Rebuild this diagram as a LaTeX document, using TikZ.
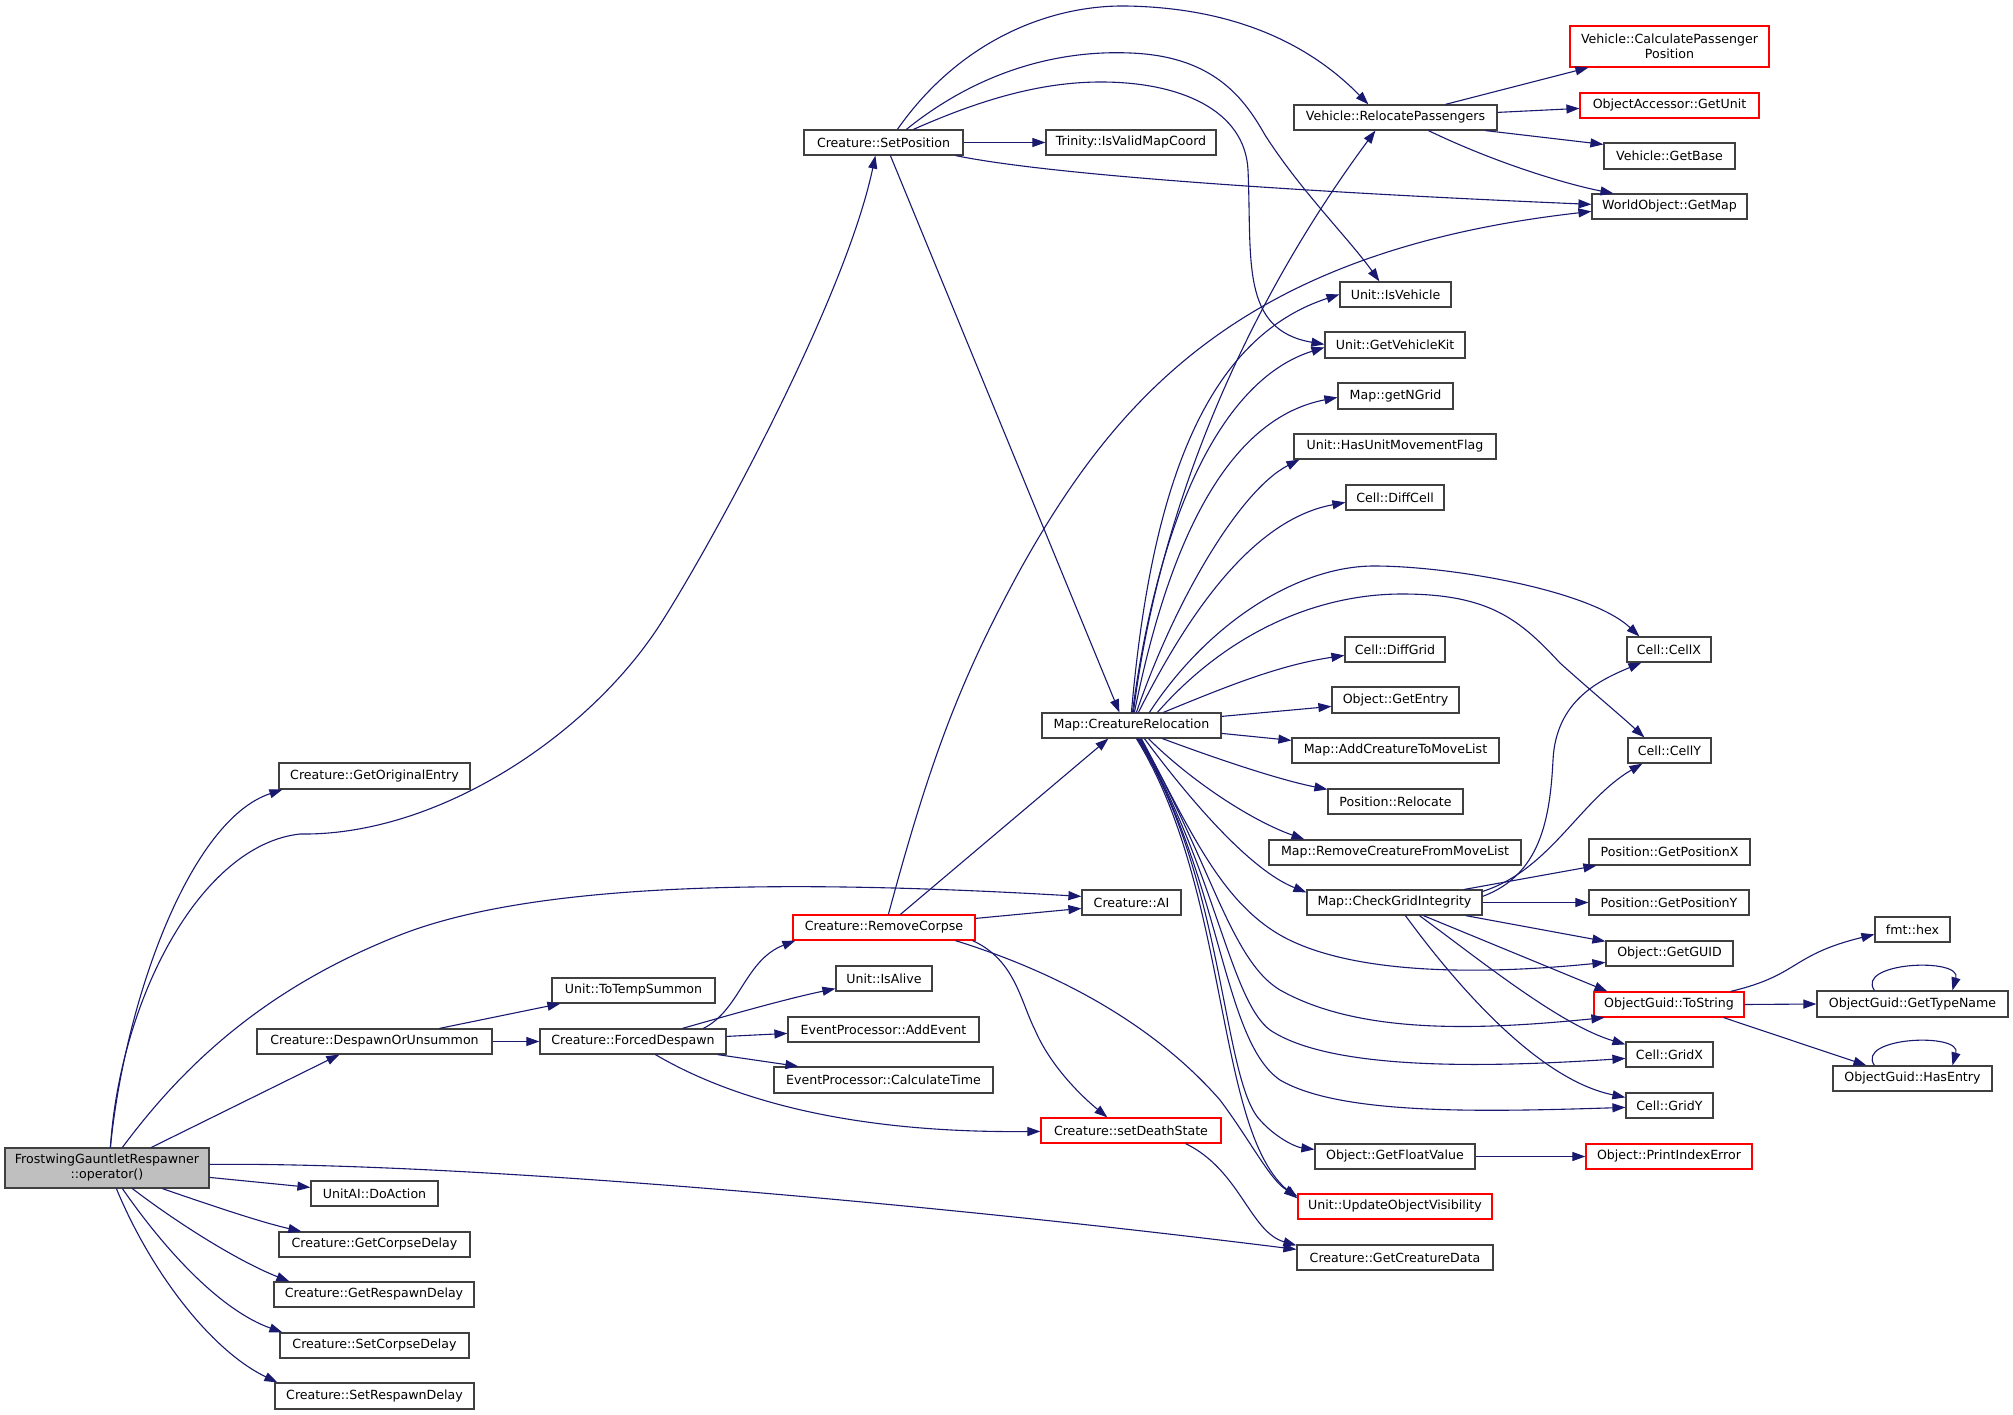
\documentclass[tikz,border=0pt]{standalone}
\usepackage{fontspec}
\setmainfont{DejaVu Sans}
\usetikzlibrary{arrows.meta,calc}
\definecolor{edgec}{HTML}{191970}
\definecolor{boxc}{HTML}{404040}
\definecolor{grayfill}{HTML}{BFBFBF}
\tikzset{
  box/.style={draw=boxc,line width=1.2pt,fill=white,inner sep=0pt,font=\fontsize{12.6}{15}\selectfont,align=center},
  redbox/.style={draw=red},
  e/.style={draw=edgec,line width=1.1pt,-{Triangle[length=13pt,width=9pt]}}
}
\newcommand\mynode[7][]{\node[box,#1,minimum width={(#5-#3)*1pt},minimum height={(#6-#4)*1pt}] (#2) at ({(#3+#5)/2},{(#4+#6)/2}) {#7};}
\begin{document}
\begin{tikzpicture}[x=1pt,y=-1pt]
\useasboundingbox (0,0) rectangle (2013,1415);
\fill[white] (0,0) rectangle (2013,1415);
% nodes
\mynode[fill=grayfill]{F}{5}{1148}{209}{1188}{FrostwingGauntletRespawner\\::operator()}
\mynode{GOE}{279}{763}{470}{789}{Creature::GetOriginalEntry}
\mynode{SP}{804}{130}{963}{155}{Creature::SetPosition}
\mynode{IVM}{1046}{130}{1216}{155}{Trinity::IsValidMapCoord}
\mynode{RP}{1294}{105}{1497}{130}{Vehicle::RelocatePassengers}
\mynode[redbox]{CPP}{1570}{26}{1769}{67}{Vehicle::CalculatePassenger\\Position}
\mynode[redbox]{OAG}{1580}{93}{1759}{118}{ObjectAccessor::GetUnit}
\mynode{VGB}{1604}{143}{1735}{169}{Vehicle::GetBase}
\mynode{WGM}{1592}{194}{1747}{219}{WorldObject::GetMap}
\mynode{IV}{1340}{282}{1451}{307}{Unit::IsVehicle}
\mynode{GVK}{1325}{332}{1465}{358}{Unit::GetVehicleKit}
\mynode{NG}{1338}{383}{1453}{409}{Map::getNGrid}
\mynode{HUM}{1294}{434}{1496}{459}{Unit::HasUnitMovementFlag}
\mynode{DC}{1346}{485}{1444}{510}{Cell::DiffCell}
\mynode{CX}{1627}{637}{1711}{662}{Cell::CellX}
\mynode{DG}{1345}{637}{1445}{662}{Cell::DiffGrid}
\mynode{GE}{1332}{687}{1459}{713}{Object::GetEntry}
\mynode{CR}{1042}{713}{1221}{738}{Map::CreatureRelocation}
\mynode{ACM}{1292}{738}{1499}{763}{Map::AddCreatureToMoveList}
\mynode{CY}{1628}{738}{1711}{763}{Cell::CellY}
\mynode{PR}{1328}{789}{1463}{814}{Position::Relocate}
\mynode{RCM}{1269}{840}{1521}{865}{Map::RemoveCreatureFromMoveList}
\mynode{PGX}{1589}{839}{1750}{865}{Position::GetPositionX}
\mynode{CGI}{1307}{890}{1482}{915}{Map::CheckGridIntegrity}
\mynode{PGY}{1589}{890}{1749}{915}{Position::GetPositionY}
\mynode{AI}{1082}{890}{1181}{915}{Creature::AI}
\mynode[redbox]{RC}{793}{915}{975}{940}{Creature::RemoveCorpse}
\mynode{HEX}{1875}{917}{1950}{942}{fmt::hex}
\mynode{GUID}{1606}{941}{1733}{966}{Object::GetGUID}
\mynode{IA}{836}{966}{932}{991}{Unit::IsAlive}
\mynode{TTS}{552}{978}{715}{1003}{Unit::ToTempSummon}
\mynode[redbox]{TS}{1594}{992}{1744}{1017}{ObjectGuid::ToString}
\mynode{GTN}{1817}{991}{2008}{1017}{ObjectGuid::GetTypeName}
\mynode{AE}{788}{1017}{979}{1042}{EventProcessor::AddEvent}
\mynode{DOU}{257}{1029}{492}{1054}{Creature::DespawnOrUnsummon}
\mynode{FD}{540}{1029}{726}{1054}{Creature::ForcedDespawn}
\mynode{GX}{1626}{1042}{1713}{1067}{Cell::GridX}
\mynode{HE}{1833}{1066}{1992}{1091}{ObjectGuid::HasEntry}
\mynode{CT}{774}{1067}{993}{1093}{EventProcessor::CalculateTime}
\mynode{GY}{1626}{1093}{1713}{1118}{Cell::GridY}
\mynode[redbox]{SDS}{1041}{1118}{1221}{1143}{Creature::setDeathState}
\mynode{GFV}{1315}{1144}{1475}{1169}{Object::GetFloatValue}
\mynode[redbox]{PIE}{1586}{1144}{1752}{1169}{Object::PrintIndexError}
\mynode{DOA}{311}{1181}{438}{1206}{UnitAI::DoAction}
\mynode[redbox]{UOV}{1298}{1194}{1492}{1219}{Unit::UpdateObjectVisibility}
\mynode{GCD}{279}{1232}{470}{1257}{Creature::GetCorpseDelay}
\mynode{GCRD}{1297}{1245}{1493}{1270}{Creature::GetCreatureData}
\mynode{GRD}{274}{1282}{474}{1307}{Creature::GetRespawnDelay}
\mynode{SCD}{280}{1333}{469}{1358}{Creature::SetCorpseDelay}
\mynode{SRD}{275}{1383}{474}{1409}{Creature::SetRespawnDelay}
% edges from F
\draw[e] ($(F.north west)+(106,0)$) .. controls (125,1000) and (190,820) .. ($(GOE.south west)+(4,0)$);
\draw[e] ($(F.north west)+(106,0)$) .. controls (120,1000) and (200,845) .. (300,834) .. controls (440,836) and (591,733) .. (661,623) .. controls (711,545) and (845,300) .. ($(SP.south west)+(72,0)$);
\draw[e] ($(F.north west)+(118,0)$) .. controls (180,1070) and (260,990) .. (400,935) .. controls (540,880) and (800,880) .. ($(AI.north west)+(0,7)$);
\draw[e] ($(F.north west)+(147,0)$) -- ($(DOU.south west)+(83,0)$);
\draw[e] ($(F.north east)+(0,17)$) .. controls (450,1162) and (900,1200) .. ($(GCRD.north west)+(0,5)$);
\draw[e] ($(F.north east)+(0,30)$) -- ($(DOA.north west)+(0,7)$);
\draw[e] ($(F.south west)+(158,0)$) .. controls (210,1205) and (260,1222) .. ($(GCD.north west)+(23,0)$);
\draw[e] ($(F.south west)+(128,0)$) .. controls (180,1225) and (240,1262) .. ($(GRD.north west)+(16,0)$);
\draw[e] ($(F.south west)+(118,0)$) .. controls (165,1250) and (220,1310) .. ($(SCD.north west)+(3,0)$);
\draw[e] ($(F.south west)+(112,0)$) .. controls (150,1270) and (210,1350) .. ($(SRD.north west)+(3,0)$);
% SetPosition
\draw[e] (SP.east) -- (IVM.west);
\draw[e] ($(SP.north west)+(94,0)$) .. controls (960,40) and (1050,5) .. (1126,6) .. controls (1250,8) and (1320,55) .. ($(RP.north west)+(75,0)$);
\draw[e] ($(SP.north west)+(103,0)$) .. controls (980,70) and (1060,50) .. (1130,53) .. controls (1215,56) and (1245,100) .. (1265,135) .. controls (1300,190) and (1350,240) .. ($(IV.north west)+(40,0)$);
\draw[e] ($(SP.north west)+(110,0)$) .. controls (980,100) and (1040,82) .. (1101,82) .. controls (1180,82) and (1245,110) .. (1248,170) .. controls (1252,260) and (1240,330) .. ($(GVK.north west)+(0,13)$);
\draw[e] ($(SP.south east)+(-8,0)$) .. controls (1050,175) and (1300,192) .. ($(WGM.north west)+(0,11)$);
\draw[e] ($(SP.south west)+(87,0)$) -- ($(CR.north west)+(78,0)$);
% RelocatePassengers
\draw[e] ($(RP.north west)+(152,0)$) -- ($(CPP.south west)+(19,0)$);
\draw[e] ($(RP.north east)+(0,8)$) -- ($(OAG.north west)+(0,16)$);
\draw[e] ($(RP.south west)+(192,0)$) -- ($(VGB.north west)+(0,2)$);
\draw[e] ($(RP.south west)+(135,0)$) .. controls (1500,165) and (1570,185) .. ($(WGM.north west)+(22,0)$);
% CreatureRelocation top
\draw[e] ($(CR.north west)+(92,0)$) .. controls (1160,500) and (1250,300) .. ($(RP.south west)+(82,0)$);
\draw[e] ($(CR.north west)+(90,0)$) .. controls (1150,500) and (1200,340) .. ($(IV.north west)+(0,13)$);
\draw[e] ($(CR.north west)+(91,0)$) .. controls (1158,520) and (1220,380) .. ($(GVK.north west)+(0,16)$);
\draw[e] ($(CR.north west)+(93,0)$) .. controls (1165,560) and (1220,420) .. ($(NG.north west)+(0,15)$);
\draw[e] ($(CR.north west)+(95,0)$) .. controls (1175,600) and (1240,490) .. ($(HUM.south west)+(6,0)$);
\draw[e] ($(CR.north west)+(97,0)$) .. controls (1185,620) and (1250,520) .. ($(DC.north west)+(0,18)$);
\draw[e] ($(CR.north west)+(108,0)$) .. controls (1210,620) and (1300,566) .. (1374,566) .. controls (1450,566) and (1590,590) .. ($(CX.north west)+(13,0)$);
\draw[e] ($(CR.north west)+(116,0)$) .. controls (1230,630) and (1320,594) .. (1402,594) .. controls (1490,594) and (1520,620) .. (1560,663) .. controls (1590,690) and (1620,715) .. ($(CY.north west)+(17,0)$);
\draw[e] ($(CR.north west)+(122,0)$) .. controls (1230,685) and (1280,665) .. ($(DG.north west)+(0,19)$);
\draw[e] ($(CR.north east)+(0,4)$) -- ($(GE.north west)+(0,20)$);
\draw[e] ($(CR.north east)+(0,21)$) -- ($(ACM.north west)+(0,3)$);
% CreatureRelocation bottom
\draw[e] ($(CR.south west)+(121,0)$) .. controls (1220,760) and (1280,780) .. ($(PR.north west)+(0,1)$);
\draw[e] ($(CR.south west)+(107,0)$) .. controls (1190,780) and (1250,820) .. ($(RCM.north west)+(36,0)$);
\draw[e] ($(CR.south west)+(103,0)$) .. controls (1190,800) and (1250,870) .. ($(CGI.north west)+(0,3)$);
\draw[e] ($(CR.south west)+(100,0)$) .. controls (1190,830) and (1220,900) .. (1280,935) .. controls (1350,975) and (1480,975) .. ($(GUID.north west)+(0,22)$);
\draw[e] ($(CR.south west)+(99,0)$) .. controls (1210,860) and (1230,960) .. (1280,990) .. controls (1360,1035) and (1480,1030) .. ($(TS.south west)+(11,0)$);
\draw[e] ($(CR.south west)+(98,0)$) .. controls (1215,870) and (1230,1000) .. (1270,1030) .. controls (1330,1070) and (1480,1068) .. ($(GX.north west)+(0,17)$);
\draw[e] ($(CR.south west)+(97,0)$) .. controls (1222,880) and (1222,1040) .. (1280,1080) .. controls (1340,1115) and (1480,1112) .. ($(GY.north west)+(0,15)$);
\draw[e] ($(CR.south west)+(96,0)$) .. controls (1225,880) and (1222,1080) .. (1260,1120) .. controls (1275,1137) and (1295,1147) .. ($(GFV.north west)+(0,6)$);
\draw[e] ($(CR.south west)+(95,0)$) .. controls (1230,890) and (1215,1130) .. ($(UOV.north west)+(0,5)$);
% RemoveCorpse
\draw[e] ($(RC.north east)+(0,4)$) -- ($(AI.north west)+(0,19)$);
\draw[e] ($(RC.north west)+(108,0)$) -- ($(CR.south west)+(67,0)$);
\draw[e] ($(RC.north west)+(96,0)$) .. controls (930,760) and (960,680) .. (1020,570) .. controls (1120,390) and (1250,250) .. ($(WGM.north west)+(0,18)$);
\draw[e] ($(RC.south east)+(-3,0)$) .. controls (1015,960) and (1020,1000) .. (1035,1030) .. controls (1050,1065) and (1080,1095) .. ($(SDS.north west)+(67,0)$);
\draw[e] ($(RC.south west)+(163,0)$) .. controls (1050,970) and (1150,1020) .. (1220,1100) .. controls (1250,1140) and (1270,1180) .. ($(UOV.north west)+(0,3)$);
% ForcedDespawn
\draw[e] ($(FD.north west)+(164,0)$) .. controls (740,1010) and (745,960) .. ($(RC.south west)+(3,0)$);
\draw[e] ($(FD.north west)+(143,0)$) .. controls (740,1012) and (790,998) .. ($(IA.south west)+(0,-3)$);
\draw[e] ($(FD.north east)+(0,8)$) -- ($(AE.north west)+(0,17)$);
\draw[e] ($(FD.south east)+(-9,0)$) -- ($(CT.north west)+(25,0)$);
\draw[e] ($(FD.south west)+(116,0)$) .. controls (750,1110) and (880,1133) .. ($(SDS.north west)+(0,14)$);
% DespawnOrUnsummon
\draw[e] ($(DOU.north west)+(183,0)$) -- ($(TTS.south west)+(9,0)$);
\draw[e] (DOU.east) -- (FD.west);
% CheckGridIntegrity
\draw[e] ($(CGI.north east)+(0,7)$) .. controls (1540,875) and (1550,820) .. (1553,760) .. controls (1556,700) and (1600,680) .. ($(CX.south west)+(15,0)$);
\draw[e] ($(CGI.north east)+(0,2)$) .. controls (1550,870) and (1580,800) .. ($(CY.south west)+(15,0)$);
\draw[e] ($(CGI.north west)+(158,0)$) -- ($(PGX.south west)+(8,0)$);
\draw[e] (CGI.east) -- (PGY.west);
\draw[e] ($(CGI.south east)+(-17,0)$) -- ($(GUID.north west)+(0,1)$);
\draw[e] ($(CGI.south west)+(117,0)$) -- ($(TS.north west)+(14,0)$);
\draw[e] ($(CGI.south west)+(113,0)$) .. controls (1480,960) and (1560,1025) .. ($(GX.north west)+(0,3)$);
\draw[e] ($(CGI.south west)+(99,0)$) .. controls (1460,990) and (1540,1080) .. ($(GY.north west)+(0,5)$);
% ToString
\draw[e] ($(TS.north east)+(-14,0)$) .. controls (1800,975) and (1790,955) .. ($(HEX.north west)+(0,18)$);
\draw[e] (TS.east) -- (GTN.west);
\draw[e] ($(TS.south east)+(-21,0)$) -- ($(HE.north west)+(34,0)$);
\draw[e] ($(GTN.north west)+(58,0)$) .. controls (1855,962) and (1962,957) .. ($(GTN.north west)+(136,0)$);
\draw[e] ($(HE.north west)+(42,0)$) .. controls (1855,1037) and (1962,1032) .. ($(HE.north west)+(120,0)$);
% others
\draw[e] (GFV.east) -- (PIE.west);
\draw[e] ($(SDS.south east)+(-36,0)$) .. controls (1240,1170) and (1250,1232) .. ($(GCRD.north west)+(0,1)$);
\end{tikzpicture}
\end{document}
